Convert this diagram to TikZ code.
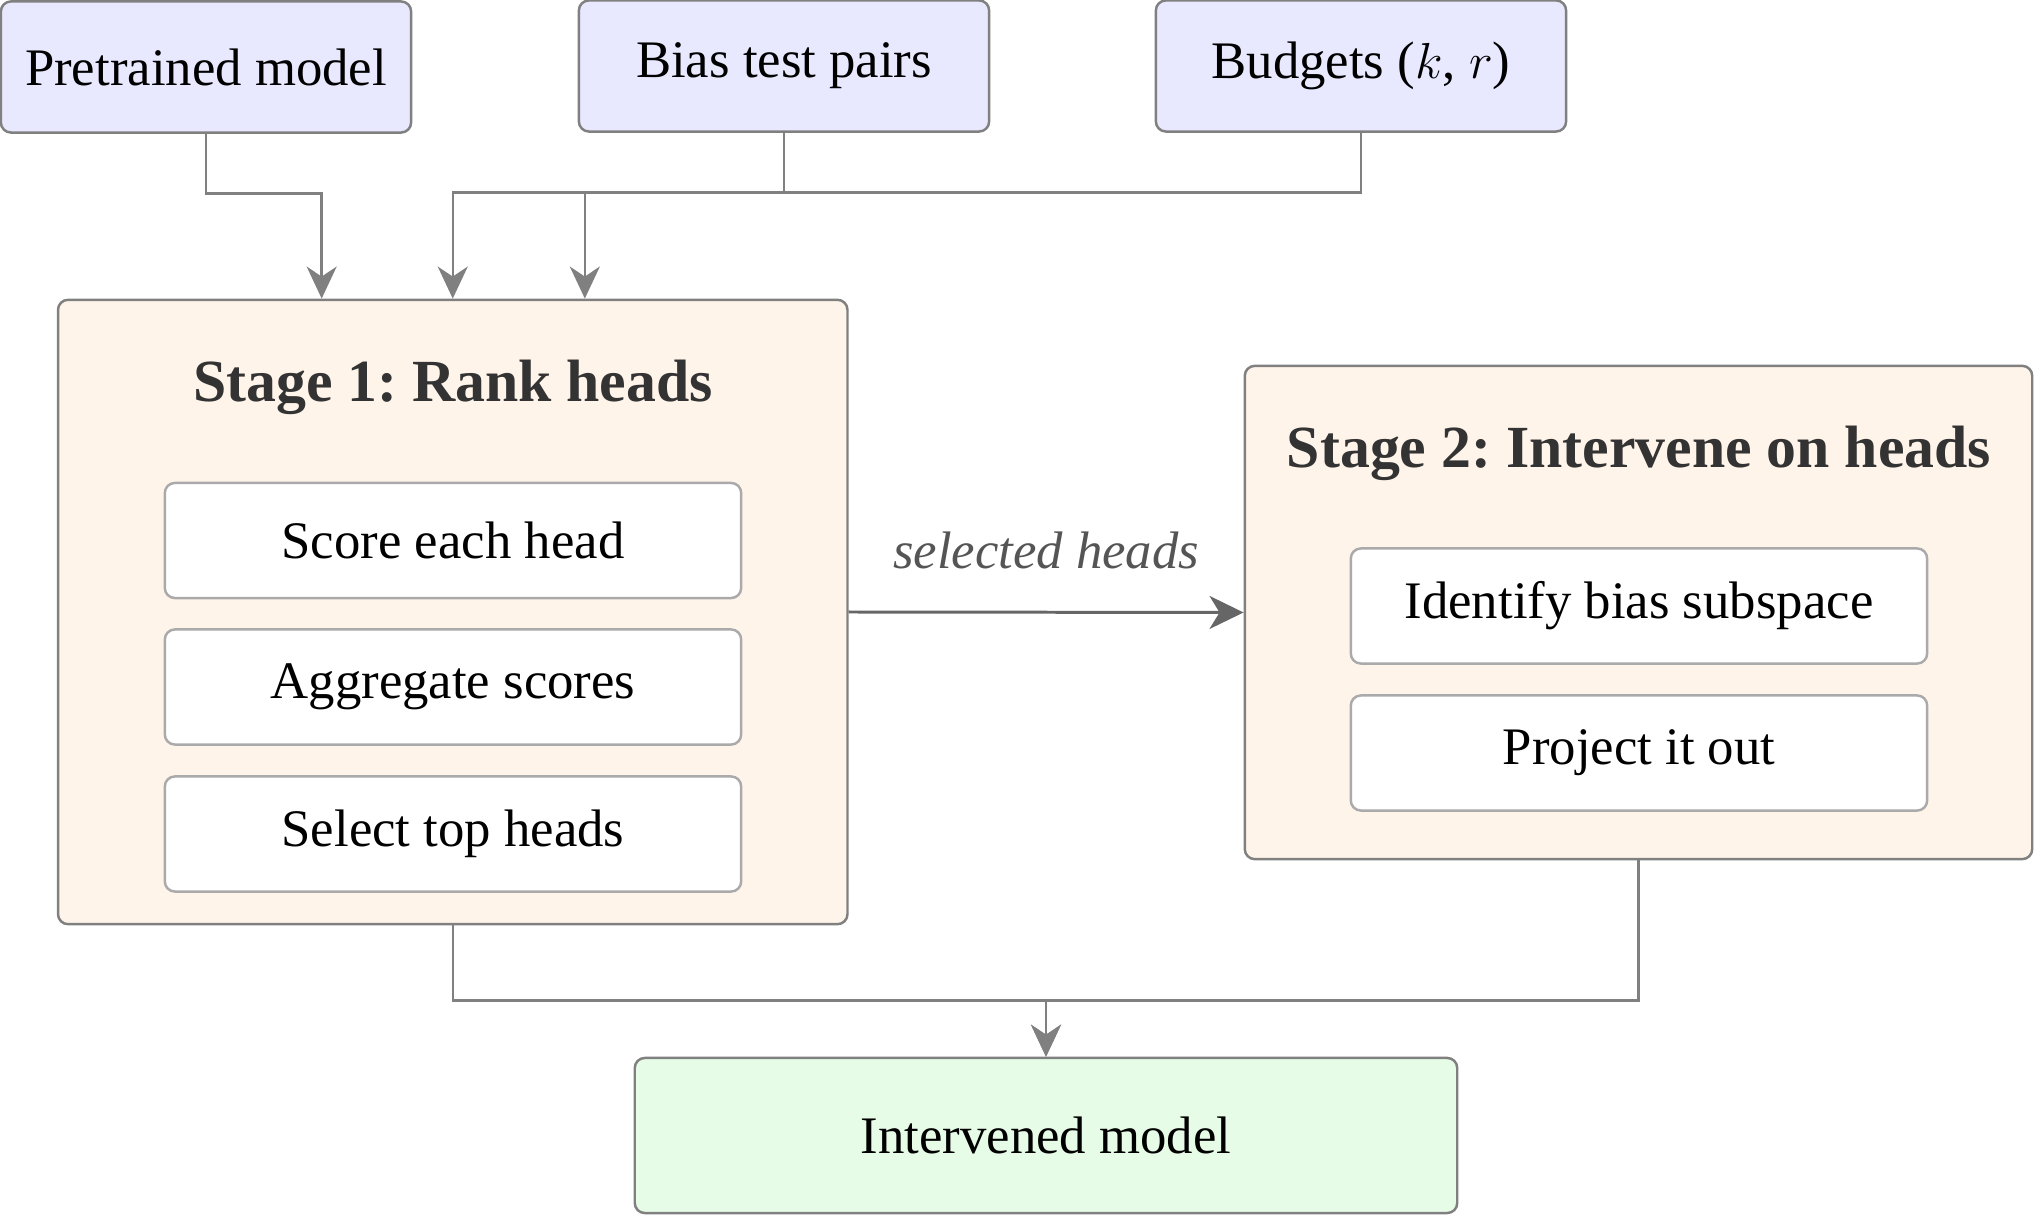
\documentclass[tikz,border=0pt]{standalone}
\usepackage{fontspec}
\setmainfont{Liberation Serif}
\usetikzlibrary{arrows.meta,calc}
\definecolor{inbg}{HTML}{E8E8FF}
\definecolor{stbg}{HTML}{FFF4EA}
\definecolor{outbg}{HTML}{E6FCE6}
\definecolor{bordc}{HTML}{808080}
\definecolor{innerbord}{HTML}{AAAAAA}
\definecolor{titlec}{HTML}{333333}
\definecolor{lblc}{HTML}{555555}
\definecolor{arrc}{HTML}{808080}
\definecolor{arrdark}{HTML}{666666}
\tikzset{
  inbox/.style={draw=bordc, fill=inbg, line width=0.7pt, rounded corners=0.1cm,
    minimum width=4.1cm, minimum height=1.31cm, inner sep=0pt,
    font=\fontsize{15}{18}\selectfont},
  stagebox/.style={draw=bordc, fill=stbg, line width=0.7pt, rounded corners=0.1cm, inner sep=0pt},
  stepbox/.style={draw=innerbord, fill=white, line width=0.7pt, rounded corners=0.1cm,
    minimum width=5.76cm, minimum height=1.15cm, inner sep=0pt,
    font=\fontsize{15}{18}\selectfont},
  stagetitle/.style={text=titlec, font=\fontsize{17}{20}\selectfont\bfseries\frenchspacing},
  outbox/.style={draw=bordc, fill=outbg, line width=0.7pt, rounded corners=0.1cm,
    minimum width=8.22cm, minimum height=1.55cm, inner sep=0pt,
    font=\fontsize{15}{18}\selectfont},
  conn/.style={draw=arrc, line width=0.7pt, -{Stealth[length=0.32cm, width=0.3cm, inset=0.1cm]}},
  conndark/.style={draw=arrdark, line width=0.85pt, -{Stealth[length=0.34cm, width=0.33cm, inset=0.1cm]}},
}
\begin{document}
\begin{tikzpicture}[x=0.01cm,y=-0.01cm]
\useasboundingbox (0,0) rectangle (2035,1216);

% inputs
\node[inbox] (pre) at (206,67) {Pretrained model};
\node[inbox] (bias) at (784,66) {Bias test pairs};
\node[inbox] (bud) at (1361,66) {Budgets ($k$, $r$)};

% stage 1
\node[stagebox, minimum width=7.89cm, minimum height=6.24cm] (s1) at (452.75,612) {};
\node[stagetitle] (t1) at (453,387) {Stage 1: Rank heads};
\node[stepbox] (a1) at (453,540.5) {Score each head};
\node[stepbox] (a2) at (453,687) {Aggregate scores};
\node[stepbox] (a3) at (453,834) {Select top heads};

% stage 2
\node[stagebox, minimum width=7.87cm, minimum height=4.93cm] (s2) at (1638.5,612.5) {};
\node[stagetitle] (t2) at (1639,453) {Stage 2: Intervene on heads};
\node[stepbox] (b1) at (1639,606) {Identify bias subspace};
\node[stepbox] (b2) at (1639,753) {Project it out};

% output
\node[outbox] (out) at (1046,1135.5) {Intervened model};

% connectors
\draw[conn] (pre.south) -- ++(0,59.6) -| ([xshift=-1.31cm]s1.north);
\draw[conn] (bias.south) -- ++(0,59.6) -| (s1.north);
\draw[conn] (bud.south) -- ++(0,59.6) -| ([xshift=1.32cm]s1.north);

\draw[conndark] (s1.east) -- node[midway, anchor=base, yshift=0.44cm, text=lblc,
  font=\fontsize{15}{18}\selectfont\itshape] (lbl) {selected heads} (s2.west);

\draw[conn] (s1.south) -- ++(0,75) -| (out.north);
\draw[conn] (s2.south) -- ++(0,140) -| (out.north);
\end{tikzpicture}
\end{document}
